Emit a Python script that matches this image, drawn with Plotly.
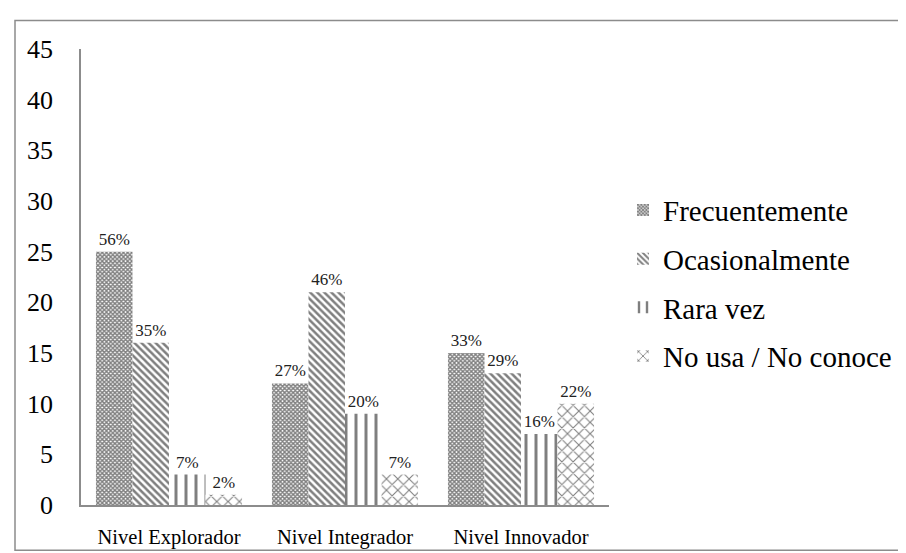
import plotly.graph_objects as go

categories = ["Nivel Explorador", "Nivel Integrador", "Nivel Innovador"]
series_names = ["Frecuentemente", "Ocasionalmente", "Rara vez", "No usa / No conoce"]
frecuentemente = [25, 12, 15]
ocasionalmente = [16, 21, 13]
rara_vez = [3, 9, 7]
no_usa = [1, 3, 10]
labels_frec = ["56%", "27%", "33%"]
labels_ocas = ["35%", "46%", "29%"]
labels_rara = ["7%", "20%", "16%"]
labels_nousa = ["2%", "7%", "22%"]
y_ticks = [0, 5, 10, 15, 20, 25, 30, 35, 40, 45]

values = [frecuentemente, ocasionalmente, rara_vez, no_usa]
texts = [labels_frec, labels_ocas, labels_rara, labels_nousa]
patterns = [
    dict(shape="x", size=3, solidity=0.7),
    dict(shape="\\", size=5, solidity=0.5),
    dict(shape="|", size=10, solidity=0.3),
    dict(shape="x", size=8, solidity=0.25),
]

FONT = "Liberation Serif, Times New Roman, serif"

fig = go.Figure()
for i, (name, vals, txt, pat) in enumerate(zip(series_names, values, texts, patterns)):
    fig.add_trace(go.Bar(
        x=categories, y=vals, name=name,
        text=txt, textposition="outside",
        textfont=dict(family=FONT, size=17, color="#222"),
        marker=dict(color="white", line=dict(width=0),
                    pattern=dict(fgcolor="black", bgcolor="white", **pat)),
        cliponaxis=False, legendgroup=str(i),
    ))

W, H = 906, 553
L, R, T, B = 73, 305, 41, 48
pw, ph = W - L - R, H - T - B

def px(x):
    return (x - L) / pw

def py(y):
    return (H - B - y) / ph

fig.add_shape(type="rect", xref="paper", yref="paper",
              x0=px(7), x1=px(904), y0=py(551), y1=py(12),
              line=dict(color="#8c8c8c", width=1.5), fillcolor="rgba(0,0,0,0)")

fig.update_layout(
    width=W, height=H,
    margin=dict(l=L, r=R, t=T, b=B),
    paper_bgcolor="white", plot_bgcolor="white",
    barmode="group", bargap=0.17, bargroupgap=0,
    font=dict(family=FONT, color="black"),
    showlegend=True,
    legend=dict(x=px(615), y=py(179), xanchor="left", yanchor="top",
                font=dict(family=FONT, size=29, color="black"),
                tracegroupgap=8, itemwidth=30, bgcolor="rgba(0,0,0,0)"),
)
fig.update_xaxes(showline=True, linecolor="#8c8c8c", linewidth=1.5,
                 ticks="", tickfont=dict(family=FONT, size=20.5, color="black"),
                 showgrid=False, ticklabelstandoff=13)
fig.update_yaxes(range=[0, 45], tickvals=y_ticks, showline=True, linecolor="#8c8c8c",
                 linewidth=1.5, ticks="", showgrid=False, zeroline=False,
                 tickfont=dict(family=FONT, size=26, color="black"),
                 ticklabelstandoff=21)

fig.write_html("out.html")
